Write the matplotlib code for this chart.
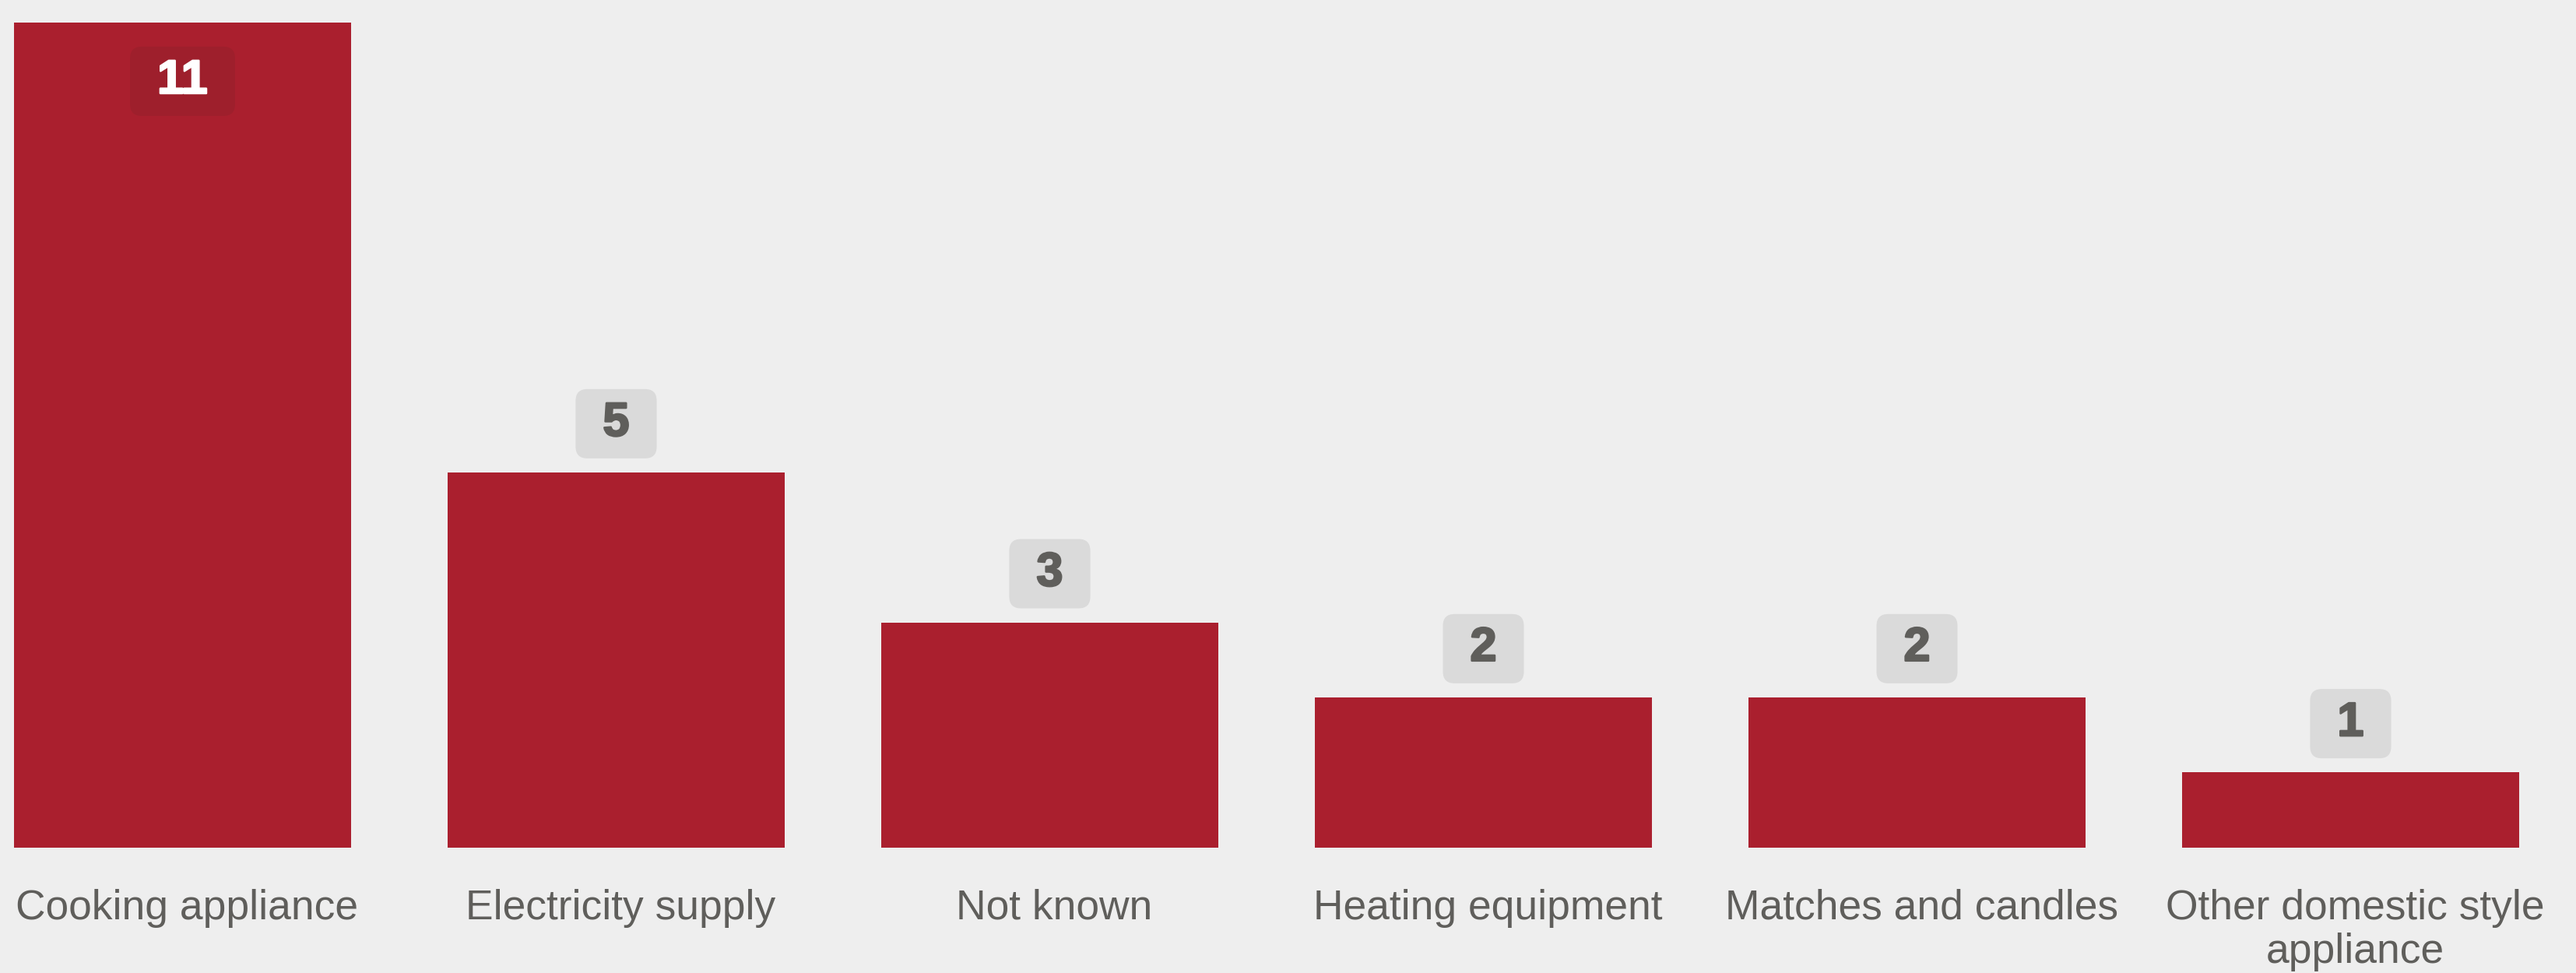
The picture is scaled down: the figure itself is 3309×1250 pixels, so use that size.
import matplotlib
matplotlib.use("Agg")
import matplotlib.pyplot as plt
from matplotlib.patches import BoxStyle
import matplotlib.patheffects as pe

categories = ["Cooking appliance", "Electricity supply", "Not known",
              "Heating equipment", "Matches and candles",
              "Other domestic style\nappliance"]
values = [11, 5, 3, 2, 2, 1]

BG = "#eeeeee"
BAR = "#aa1f2e"
GREY_TXT = "#5f5e5b"
BOX_LIGHT = "#dadada"
BOX_DARK = "#9e1f2c"

DPI = 100
fig = plt.figure(figsize=(33.09, 12.5), dpi=DPI, facecolor=BG)
ax = fig.add_axes([0, 161.5 / 1250, 1, 1 - 161.5 / 1250])
ax.set_facecolor(BG)

x = list(range(len(categories)))
ax.bar(x, values, width=0.7774, color=BAR, zorder=2)
ax.set_xlim(-0.421, 5.5198)
ax.set_ylim(0, 11.30)
for s in ax.spines.values():
    s.set_visible(False)
ax.set_xticks([])
ax.set_yticks([])


class FixedBox:
    """Rounded box with fixed pixel height and horizontal padding."""
    def __init__(self, padx=35, height=89, r=15):
        self.padx, self.height, self.r = padx, height, r

    def __call__(self, x0, y0, width, height, mutation_size):
        cx = x0 + width / 2
        cy = y0 + height / 2
        w = max(width + 2 * self.padx, 102)
        h = self.height
        return BoxStyle.Round(pad=0, rounding_size=self.r / mutation_size)(
            cx - w / 2, cy - h / 2, w, h, mutation_size)


px2pt = 72 / DPI
for xi, v in zip(x, values):
    inside = v == max(values)
    off = -69 if inside else 69
    col = "white" if inside else GREY_TXT
    ax.annotate(str(v), xy=(xi, v), xytext=(0, off * px2pt),
                textcoords="offset points", ha="center", va="center_baseline",
                fontsize=44, fontweight="bold", family="Liberation Sans",
                color=col, zorder=4,
                path_effects=[pe.withStroke(linewidth=1.8, foreground=col)],
                bbox=dict(boxstyle=FixedBox(), fc=BOX_DARK if inside else BOX_LIGHT,
                          ec="none"))

for xi, c in zip(x, categories):
    ax.annotate(c, xy=(xi, 0), xytext=(6 * px2pt, -53 * px2pt),
                textcoords="offset points", ha="center", va="top",
                fontsize=38.4, family="Liberation Sans", color=GREY_TXT,
                linespacing=1.17, annotation_clip=False)

fig.savefig("out.png", dpi=DPI, facecolor=BG)
